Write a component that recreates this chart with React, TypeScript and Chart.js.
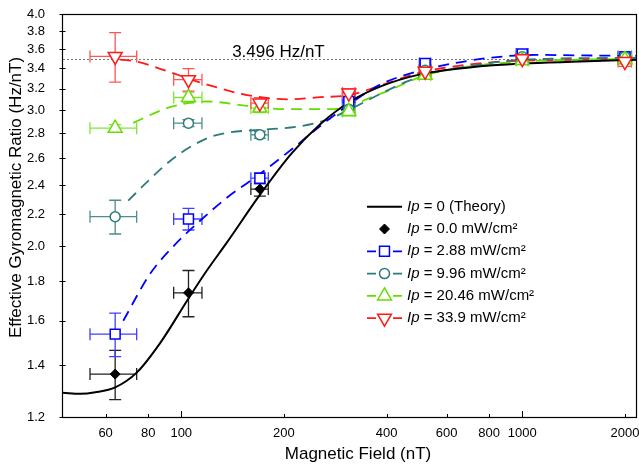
import React, { useEffect, useRef } from 'react';
import { Chart, registerables } from 'chart.js';

Chart.register(...registerables);

const FONT = '"Liberation Sans", Arial, Helvetica, sans-serif';

// ---- axis ticks ----
const fieldTicks = [60, 80, 100, 200, 400, 600, 800, 1000, 2000];
const majorFieldTicks = [100, 1000];
const ratioTicks = [1.2, 1.4, 1.6, 1.8, 2.0, 2.2, 2.4, 2.6, 2.8, 3.0, 3.2, 3.4, 3.6, 3.8, 4.0];

// ---- measured points (nT, Hz/nT) ----
const measuredField = [64, 105, 170, 310, 519, 1000, 2000];
const measuredFieldErr = [10, 10, 10, 13, 20, 40, 90];

const ratio00 = [1.364, 1.739, 2.371, 3.12, 3.38, 3.49, 3.5];
const ratio00Err = [0.1, 0.12, 0.05, 0.04, 0.04, 0.04, 0.04];
const ratio288 = [1.537, 2.168, 2.449, 3.08, 3.45, 3.55, 3.52];
const ratio288Err = [0.1, 0.07, 0.04, 0.04, 0.04, 0.04, 0.03];
const ratio996 = [2.183, 2.887, 2.788, 3.01, 3.38, 3.52, 3.52];
const ratio996Err = [0.11, 0.03, 0.03, 0.03, 0.03, 0.03, 0.03];
const ratio2046 = [2.844, 3.117, 3.02, 2.99, 3.33, 3.48, 3.49];
const ratio2046Err = [0.03, 0.05, 0.04, 0.04, 0.04, 0.04, 0.04];
const ratio339 = [3.524, 3.287, 3.065, 3.158, 3.37, 3.5, 3.47];
const ratio339Err = [0.26, 0.11, 0.05, 0.04, 0.05, 0.05, 0.05];

// ---- curves ----
const theoryField = [45, 50.6, 56, 64, 74, 87, 105, 119, 136, 170, 211, 256, 313, 383, 502, 700, 1000, 1477, 2170];
const theoryRatio = [1.29, 1.286, 1.292, 1.311, 1.37, 1.5, 1.71, 1.86, 2.02, 2.33, 2.64, 2.88, 3.08, 3.22, 3.34, 3.41, 3.45, 3.47, 3.49];

const fit288Field = [67.6, 81, 95, 114, 136, 170, 213, 260, 313, 383, 450, 585, 806, 1100, 1477, 2170];
const fit288Ratio = [1.6, 1.84, 2.0, 2.16, 2.31, 2.48, 2.68, 2.88, 3.06, 3.24, 3.33, 3.43, 3.51, 3.54, 3.535, 3.53];

const fit996Field = [69.9, 80, 94.9, 108, 121.6, 140, 170, 223, 270, 313, 383, 460, 537, 752, 1000, 2170];
const fit996Ratio = [2.29, 2.43, 2.6, 2.7, 2.77, 2.81, 2.83, 2.86, 2.92, 3.01, 3.15, 3.27, 3.35, 3.44, 3.49, 3.51];

const fit2046Field = [72.3, 93, 119, 156, 205, 274, 383, 519, 700, 1000, 2170];
const fit2046Ratio = [2.89, 3.03, 3.08, 3.04, 3.01, 3.01, 3.15, 3.33, 3.42, 3.47, 3.5];

const fit339Field = [66.2, 74, 93, 119, 156, 205, 256, 313, 383, 519, 700, 1000, 2170];
const fit339Ratio = [3.49, 3.47, 3.36, 3.24, 3.14, 3.1, 3.12, 3.14, 3.23, 3.37, 3.44, 3.48, 3.49];

const referenceRatio = 3.496;
const referenceLabel = '3.496 Hz/nT';
const referenceLabelField = 141;

const legendLabels = [' = 0 (Theory)', ' = 0.0 mW/cm²', ' = 2.88 mW/cm²', ' = 9.96 mW/cm²', ' = 20.46 mW/cm²', ' = 33.9 mW/cm²'];

const xTitle = 'Magnetic Field (nT)';
const yTitle = 'Effective Gyromagnetic Ratio (Hz/nT)';

// ---- styles ----
const BLUE = '#0000FF';
const TEAL = '#2E7B7D';
const GREEN = '#66DD00';
const RED = '#FF1A1A';

type Shape = 'diamond' | 'square' | 'circle' | 'up' | 'down';

const pointSeries = [
  { values: ratio339, err: ratio339Err, color: RED, errColor: '#FF5555', shape: 'down' as Shape, r: 8, fill: '#FFFFFF', pointStyle: 'triangle', rotation: 180 },
  { values: ratio2046, err: ratio2046Err, color: GREEN, errColor: '#80E633', shape: 'up' as Shape, r: 8, fill: '#FFFFFF', pointStyle: 'triangle', rotation: 0 },
  { values: ratio996, err: ratio996Err, color: TEAL, errColor: '#4F8C8D', shape: 'circle' as Shape, r: 5, fill: '#FFFFFF', pointStyle: 'circle', rotation: 0 },
  { values: ratio288, err: ratio288Err, color: BLUE, errColor: '#4040FF', shape: 'square' as Shape, r: 7, fill: '#FFFFFF', pointStyle: 'rect', rotation: 0 },
  { values: ratio00, err: ratio00Err, color: '#000000', errColor: '#222222', shape: 'diamond' as Shape, r: 5, fill: '#000000', pointStyle: 'rectRot', rotation: 0 },
];

const curveSeries = [
  { field: theoryField, ratio: theoryRatio, color: '#000000', dash: [] as number[], width: 2 },
  { field: fit288Field, ratio: fit288Ratio, color: BLUE, dash: [11, 7], width: 1.8 },
  { field: fit996Field, ratio: fit996Ratio, color: TEAL, dash: [11, 7], width: 1.8 },
  { field: fit2046Field, ratio: fit2046Ratio, color: GREEN, dash: [11, 7], width: 1.8 },
  { field: fit339Field, ratio: fit339Ratio, color: RED, dash: [11, 7], width: 1.8 },
];

const legendStyles: { kind: 'solid' | 'marker' | 'dash'; color: string; shape?: Shape; r?: number; fill?: string }[] = [
  { kind: 'solid', color: '#000000' },
  { kind: 'marker', color: '#000000', shape: 'diamond', r: 5, fill: '#000000' },
  { kind: 'dash', color: BLUE, shape: 'square', r: 7, fill: '#FFFFFF' },
  { kind: 'dash', color: TEAL, shape: 'circle', r: 5, fill: '#FFFFFF' },
  { kind: 'dash', color: GREEN, shape: 'up', r: 8, fill: '#FFFFFF' },
  { kind: 'dash', color: RED, shape: 'down', r: 8, fill: '#FFFFFF' },
];

function drawShape(ctx: CanvasRenderingContext2D, shape: Shape, cx: number, cy: number, r: number) {
  ctx.beginPath();
  if (shape === 'diamond') {
    ctx.moveTo(cx, cy - r);
    ctx.lineTo(cx + r, cy);
    ctx.lineTo(cx, cy + r);
    ctx.lineTo(cx - r, cy);
    ctx.closePath();
  } else if (shape === 'square') {
    const h = r * Math.SQRT1_2;
    ctx.rect(cx - h, cy - h, 2 * h, 2 * h);
  } else if (shape === 'circle') {
    ctx.arc(cx, cy, r, 0, Math.PI * 2);
  } else {
    const sgn = shape === 'up' ? 1 : -1;
    for (let k = 0; k < 3; k++) {
      const a = (k * 2 * Math.PI) / 3;
      const px = cx + Math.sin(a) * r;
      const py = cy - sgn * Math.cos(a) * r;
      if (k === 0) ctx.moveTo(px, py);
      else ctx.lineTo(px, py);
    }
    ctx.closePath();
  }
}

const decorPlugin = {
  id: 'decor',
  beforeDatasetsDraw(chart: any) {
    const { ctx, chartArea: a, scales } = chart;
    const x = scales.x;
    const y = scales.y;
    ctx.save();
    // reference dotted line
    const yRef = Math.round(y.getPixelForValue(referenceRatio)) + 0.5;
    ctx.strokeStyle = '#7A7A7A';
    ctx.lineWidth = 1;
    ctx.setLineDash([2, 2]);
    ctx.beginPath();
    ctx.moveTo(a.left, yRef);
    ctx.lineTo(a.right, yRef);
    ctx.stroke();
    ctx.setLineDash([]);
    ctx.fillStyle = '#000';
    ctx.font = `17px ${FONT}`;
    ctx.textAlign = 'left';
    ctx.textBaseline = 'alphabetic';
    ctx.fillText(referenceLabel, x.getPixelForValue(referenceLabelField), yRef - 3);

    // error bars
    const cap = 6;
    pointSeries.slice().reverse().forEach((s) => {
      ctx.strokeStyle = s.errColor;
      ctx.lineWidth = 1.3;
      measuredField.forEach((f, i) => {
        const px = x.getPixelForValue(f);
        const py = y.getPixelForValue(s.values[i]);
        const x1 = x.getPixelForValue(f - measuredFieldErr[i]);
        const x2 = x.getPixelForValue(f + measuredFieldErr[i]);
        const y1 = y.getPixelForValue(s.values[i] + s.err[i]);
        const y2 = y.getPixelForValue(s.values[i] - s.err[i]);
        ctx.beginPath();
        ctx.moveTo(x1, py); ctx.lineTo(x2, py);
        ctx.moveTo(x1, py - cap); ctx.lineTo(x1, py + cap);
        ctx.moveTo(x2, py - cap); ctx.lineTo(x2, py + cap);
        ctx.moveTo(px, y1); ctx.lineTo(px, y2);
        ctx.moveTo(px - cap, y1); ctx.lineTo(px + cap, y1);
        ctx.moveTo(px - cap, y2); ctx.lineTo(px + cap, y2);
        ctx.stroke();
      });
    });
    ctx.restore();
  },
  afterDraw(chart: any) {
    const { ctx, chartArea: a, scales } = chart;
    const x = scales.x;
    const y = scales.y;
    ctx.save();
    // frame
    ctx.strokeStyle = '#000';
    ctx.lineWidth = 1.2;
    ctx.strokeRect(a.left - 0.5, a.top + 0.5, a.right - a.left, a.bottom - a.top);
    // x ticks (inward) + labels
    ctx.lineWidth = 1;
    ctx.beginPath();
    fieldTicks.forEach((v) => {
      const px = Math.round(x.getPixelForValue(v)) + 0.5;
      const len = majorFieldTicks.includes(v) ? 6 : 3;
      ctx.moveTo(px, a.bottom);
      ctx.lineTo(px, a.bottom - len);
    });
    // y ticks
    ratioTicks.forEach((v) => {
      const py = Math.round(y.getPixelForValue(v)) + 0.5;
      ctx.moveTo(a.left - 3.5, py);
      ctx.lineTo(a.left + 2.5, py);
    });
    ctx.stroke();

    ctx.fillStyle = '#000';
    ctx.font = `13px ${FONT}`;
    ctx.textAlign = 'center';
    ctx.textBaseline = 'alphabetic';
    fieldTicks.forEach((v) => {
      ctx.fillText(String(v), x.getPixelForValue(v), a.bottom + 19.5);
    });

    // axis titles
    ctx.font = `17px ${FONT}`;
    ctx.textAlign = 'center';
    ctx.textBaseline = 'middle';
    ctx.fillText(xTitle, 358, 454);
    ctx.save();
    ctx.translate(16, 197.5);
    ctx.rotate(-Math.PI / 2);
    ctx.fillText(yTitle, 0, 0);
    ctx.restore();

    // legend
    const lx0 = 367;
    const lx1 = 402;
    const lmid = 384.5;
    const tx = 407;
    legendLabels.forEach((label, i) => {
      const cy = 206.7 + i * 22.3;
      const st = legendStyles[i];
      ctx.setLineDash([]);
      ctx.strokeStyle = st.color;
      if (st.kind === 'solid') {
        ctx.lineWidth = 2;
        ctx.beginPath();
        ctx.moveTo(lx0, cy);
        ctx.lineTo(lx1, cy);
        ctx.stroke();
      } else {
        if (st.kind === 'dash') {
          ctx.lineWidth = 1.8;
          ctx.beginPath();
          ctx.moveTo(lx0, cy);
          ctx.lineTo(lx0 + 9, cy);
          ctx.moveTo(lx1 - 9, cy);
          ctx.lineTo(lx1, cy);
          ctx.stroke();
        }
        ctx.lineWidth = st.kind === 'marker' ? 1 : 1.5;
        drawShape(ctx, st.shape as Shape, lmid, cy, st.r as number);
        ctx.fillStyle = st.fill as string;
        ctx.fill();
        ctx.stroke();
      }
      ctx.fillStyle = '#000';
      ctx.textAlign = 'left';
      ctx.textBaseline = 'middle';
      ctx.font = `italic 15px ${FONT}`;
      ctx.fillText('Ip', tx, cy);
      const w = ctx.measureText('Ip').width;
      ctx.font = `15px ${FONT}`;
      ctx.fillText(label, tx + w, cy);
    });
    ctx.restore();
  },
};

export default function App() {
  const ref = useRef<HTMLCanvasElement>(null);

  useEffect(() => {
    const canvas = ref.current;
    if (!canvas) return;

    const curveDatasets = curveSeries.map((c) => ({
      data: c.field.map((f, i) => ({ x: f, y: c.ratio[i] })),
      showLine: true,
      borderColor: c.color,
      borderWidth: c.width,
      borderDash: c.dash,
      pointRadius: 0,
      pointHoverRadius: 0,
      fill: false,
      cubicInterpolationMode: 'monotone' as const,
      order: 10,
    }));

    const pointDatasets = pointSeries.map((s, k) => ({
      data: measuredField.map((f, i) => ({ x: f, y: s.values[i] })),
      showLine: false,
      pointStyle: s.pointStyle,
      rotation: s.rotation,
      pointRadius: s.r,
      pointHoverRadius: s.r,
      pointBackgroundColor: s.fill,
      pointBorderColor: s.color,
      pointBorderWidth: s.shape === 'diamond' ? 1 : 1.5,
      borderColor: s.color,
      order: k,
    }));

    const chart = new Chart(canvas, {
      type: 'scatter',
      data: { datasets: [...curveDatasets, ...pointDatasets] as any },
      options: {
        animation: false,
        responsive: false,
        devicePixelRatio: 1,
        layout: { autoPadding: false, padding: { left: 0, right: 2, top: 14, bottom: 0 } },
        plugins: { legend: { display: false }, tooltip: { enabled: false } },
        events: [],
        scales: {
          x: {
            type: 'logarithmic',
            min: 45,
            max: 2170,
            grid: { display: false },
            border: { display: false },
            ticks: { display: false },
            afterBuildTicks: (s: any) => {
              s.ticks = fieldTicks.map((v) => ({ value: v }));
            },
            afterFit: (s: any) => {
              s.height = 51;
              s.paddingLeft = 0;
              s.paddingRight = 0;
            },
          },
          y: {
            type: 'logarithmic',
            min: 1.2,
            max: 4.0,
            grid: { display: false },
            border: { display: false },
            ticks: {
              autoSkip: false,
              padding: 10,
              color: '#000',
              font: { size: 13, family: FONT },
              callback: (v: any) => Number(v).toFixed(1),
            },
            afterBuildTicks: (s: any) => {
              s.ticks = ratioTicks.map((v) => ({ value: v }));
            },
            afterFit: (s: any) => {
              s.width = 63;
              s.paddingTop = 0;
              s.paddingBottom = 0;
            },
          },
        },
      } as any,
      plugins: [decorPlugin],
    });

    return () => chart.destroy();
  }, []);

  return (
    <div style={{ position: 'absolute', left: 0, top: 0, width: 639, height: 468, background: '#fff' }}>
      <canvas ref={ref} width={639} height={468} style={{ display: 'block', width: 639, height: 468 }} />
    </div>
  );
}
